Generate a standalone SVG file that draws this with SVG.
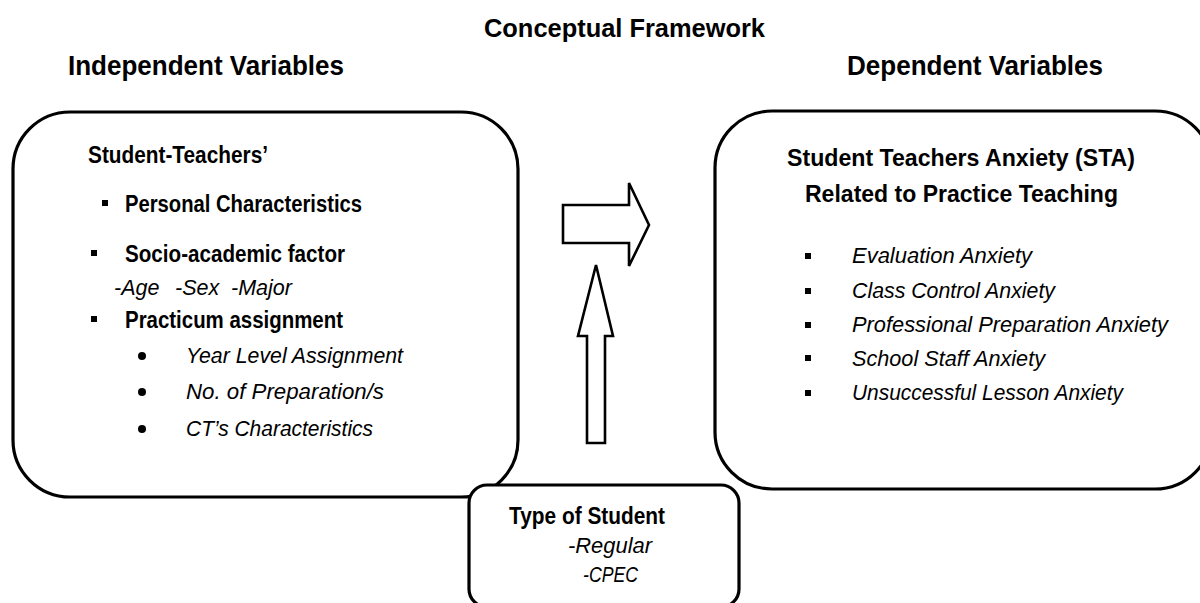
<svg xmlns="http://www.w3.org/2000/svg" width="1200" height="603" viewBox="0 0 1200 603">
  <style>
    text { font-family: "Liberation Sans", Arial, sans-serif; fill: #000; }
    .head { font-weight: bold; font-size: 28px; }
    .title { font-weight: bold; font-size: 26px; }
    .b { font-weight: bold; font-size: 23px; }
    .bh { font-weight: bold; font-size: 24.5px; }
    .i { font-style: italic; font-size: 21.5px; }
    .box { fill: #fff; stroke: #000; stroke-width: 3.2; }
    .arrow { fill: #fff; stroke: #000; stroke-width: 2.6; stroke-linejoin: miter; }
  </style>

  <!-- headings -->
  <g id="headings">
    <text class="title" x="484" y="37" textLength="281" lengthAdjust="spacingAndGlyphs">Conceptual Framework</text>
    <text class="head" x="68" y="75" textLength="276" lengthAdjust="spacingAndGlyphs">Independent Variables</text>
    <text class="head" x="847" y="75" textLength="256" lengthAdjust="spacingAndGlyphs">Dependent Variables</text>
  </g>

  <!-- independent variables -->
  <g id="independent">
    <rect class="box" x="13" y="112" width="505" height="385" rx="57" ry="57"/>
    <text class="b" x="88" y="163" textLength="180" lengthAdjust="spacingAndGlyphs">Student-Teachers’</text>
    <rect x="102" y="200" width="6" height="6"/>
    <text class="b" x="125" y="212" textLength="237" lengthAdjust="spacingAndGlyphs">Personal Characteristics</text>
    <rect x="91" y="250" width="6" height="6"/>
    <text class="b" x="125" y="262" textLength="220" lengthAdjust="spacingAndGlyphs">Socio-academic factor</text>
    <text class="i" y="295"><tspan x="114">-Age</tspan><tspan x="175">-Sex</tspan><tspan x="231">-Major</tspan></text>
    <rect x="91" y="316" width="6" height="6"/>
    <text class="b" x="125" y="328" textLength="218" lengthAdjust="spacingAndGlyphs">Practicum assignment</text>
    <circle cx="142" cy="356" r="4"/>
    <text class="i" x="186" y="363" textLength="217" lengthAdjust="spacingAndGlyphs">Year Level Assignment</text>
    <circle cx="142" cy="392" r="4"/>
    <text class="i" x="186" y="399" textLength="198" lengthAdjust="spacingAndGlyphs">No. of Preparation/s</text>
    <circle cx="142" cy="429" r="4"/>
    <text class="i" x="186" y="436" textLength="187" lengthAdjust="spacingAndGlyphs">CT’s Characteristics</text>
  </g>

  <!-- dependent variables -->
  <g id="dependent">
    <rect class="box" x="715" y="111" width="497" height="378" rx="57" ry="57"/>
    <text class="bh" x="787" y="166" textLength="348" lengthAdjust="spacingAndGlyphs">Student Teachers Anxiety (STA)</text>
    <text class="bh" x="805" y="202" textLength="313" lengthAdjust="spacingAndGlyphs">Related to Practice Teaching</text>
    <rect x="805" y="253" width="6" height="6"/>
    <text class="i" x="852" y="263" textLength="180" lengthAdjust="spacingAndGlyphs">Evaluation Anxiety</text>
    <rect x="805" y="288" width="6" height="6"/>
    <text class="i" x="852" y="298" textLength="203" lengthAdjust="spacingAndGlyphs">Class Control Anxiety</text>
    <rect x="805" y="322" width="6" height="6"/>
    <text class="i" x="852" y="332" textLength="316" lengthAdjust="spacingAndGlyphs">Professional Preparation Anxiety</text>
    <rect x="805" y="355" width="6" height="6"/>
    <text class="i" x="852" y="366" textLength="193" lengthAdjust="spacingAndGlyphs">School Staff Anxiety</text>
    <rect x="805" y="390" width="6" height="6"/>
    <text class="i" x="852" y="400" textLength="271" lengthAdjust="spacingAndGlyphs">Unsuccessful Lesson Anxiety</text>
  </g>

  <!-- block arrows -->
  <g id="connectors">
    <polygon class="arrow" points="563,205 629,205 629,183 649,225 629,266 629,243 563,243"/>
    <polygon class="arrow" points="596,265 613,336 605,336 605,443 587,443 587,336 578,336"/>
  </g>

  <!-- moderating variable -->
  <g id="moderator">
    <rect class="box" x="469" y="485" width="270" height="122" rx="18" ry="18"/>
    <text class="b" x="509" y="524" textLength="156" lengthAdjust="spacingAndGlyphs">Type of Student</text>
    <text class="i" x="568" y="553" textLength="84" lengthAdjust="spacingAndGlyphs">-Regular</text>
    <text class="i" x="583" y="582" textLength="55" lengthAdjust="spacingAndGlyphs">-CPEC</text>
  </g>
</svg>
